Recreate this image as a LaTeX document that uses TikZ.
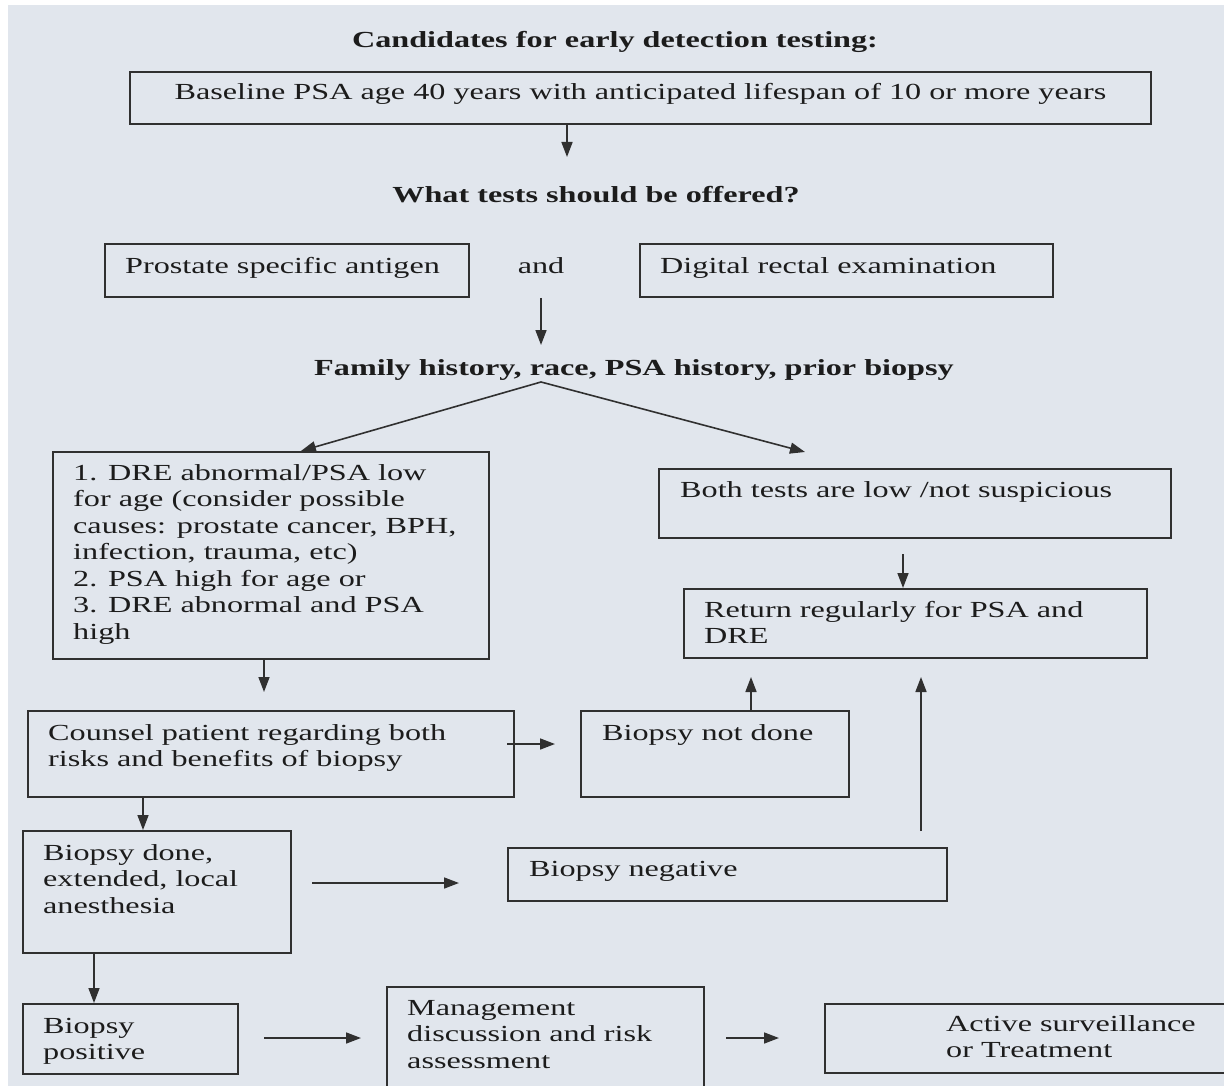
\documentclass[tikz,border=0pt]{standalone}
\usepackage{fontspec}
\setmainfont{Liberation Serif}[FakeStretch=1.4]
\usepackage{tikz}
\usetikzlibrary{arrows.meta}

\definecolor{paper}{HTML}{E1E6ED}
\definecolor{ink}{HTML}{1C1C1C}
\definecolor{rule}{HTML}{303030}

\tikzset{
  box/.style={draw=rule, line width=1.8pt, anchor=north west, inner sep=0pt},
  txt/.style={anchor=base west, inner sep=0pt, align=left, text=ink,
    font=\fontsize{23}{26.5}\selectfont},
  head/.style={anchor=base, inner sep=0pt, text=ink,
    font=\fontsize{23}{26.5}\selectfont\bfseries},
  arr/.style={draw=rule, line width=1.6pt, -{Triangle[length=15pt,width=11pt]}}
}

\begin{document}
\begin{tikzpicture}[x=1pt, y=-1pt]
  % Page
  \useasboundingbox (0,0) rectangle (1224,1086);
  \clip (0,0) rectangle (1224,1086);
  \fill[white] (0,0) rectangle (1224,1086);
  \fill[paper] (8,5) rectangle (1224,1086);

  % Headings
  \node[head] (cand) at (615,48) {Candidates for early detection testing:};
  \node[head] (offer) at (596,203) {What tests should be offered?};
  \node[head] (hist) at (634,375) {Family history, race, PSA history, prior biopsy};

  % Boxes
  \node[box, minimum width=1021pt, minimum height=52pt] (base) at (129,71) {};
  \node[box, minimum width=364pt, minimum height=53pt] (psa) at (104,243) {};
  \node[box, minimum width=413pt, minimum height=53pt] (dre) at (639,243) {};
  \node[box, minimum width=436pt, minimum height=207pt] (crit) at (52,451) {};
  \node[box, minimum width=512pt, minimum height=69pt] (low) at (658,468) {};
  \node[box, minimum width=463pt, minimum height=69pt] (ret) at (683,588) {};
  \node[box, minimum width=486pt, minimum height=86pt] (counsel) at (27,710) {};
  \node[box, minimum width=268pt, minimum height=86pt] (notdone) at (580,710) {};
  \node[box, minimum width=268pt, minimum height=122pt] (done) at (22,830) {};
  \node[box, minimum width=439pt, minimum height=53pt] (neg) at (507,847) {};
  \node[box, minimum width=215pt, minimum height=70pt] (pos) at (22,1003) {};
  \node[box, minimum width=317pt, minimum height=120pt] (mgmt) at (386,986) {};
  \node[box, minimum width=420pt, minimum height=69pt] (active) at (824,1003) {};

  % Texts (multi-line ones sit on the baseline of their last line)
  \node[txt, anchor=base] (baseT) at ([yshift=-29pt]base.north) {Baseline PSA age 40 years with anticipated lifespan of 10 or more years};
  \node[txt] (psaT) at ([xshift=21pt,yshift=-30pt]psa.north west) {Prostate specific antigen};
  \node[txt, anchor=base] (and) at (541,273) {and};
  \node[txt] (dreT) at ([xshift=21pt,yshift=-30pt]dre.north west) {Digital rectal examination};
  \node[txt] (critT) at ([xshift=21pt,yshift=-188pt]crit.north west) {1. DRE abnormal/PSA low\\for age (consider possible\\causes: prostate cancer, BPH,\\infection, trauma, etc)\\2. PSA high for age or\\3. DRE abnormal and PSA\\high};
  \node[txt] (lowT) at ([xshift=22pt,yshift=-29pt]low.north west) {Both tests are low /not suspicious};
  \node[txt] (retT) at ([xshift=21pt,yshift=-55.5pt]ret.north west) {Return regularly for PSA and\\DRE};
  \node[txt] (counselT) at ([xshift=21pt,yshift=-56.5pt]counsel.north west) {Counsel patient regarding both\\risks and benefits of biopsy};
  \node[txt] (notdoneT) at ([xshift=22pt,yshift=-30pt]notdone.north west) {Biopsy not done};
  \node[txt] (doneT) at ([xshift=21pt,yshift=-83pt]done.north west) {Biopsy done,\\extended, local\\anesthesia};
  \node[txt] (negT) at ([xshift=22pt,yshift=-29pt]neg.north west) {Biopsy negative};
  \node[txt] (posT) at ([xshift=21pt,yshift=-56.5pt]pos.north west) {Biopsy\\positive};
  \node[txt] (mgmtT) at ([xshift=21pt,yshift=-82pt]mgmt.north west) {Management\\discussion and risk\\assessment};
  \node[txt] (activeT) at ([xshift=122pt,yshift=-54.5pt]active.north west) {Active surveillance\\or Treatment};

  % Arrow ends
  \coordinate (a1) at (567,157);
  \coordinate (a2) at (541,345);
  \coordinate (fork) at (541,382);
  \coordinate (a3) at (805,452);
  \coordinate (a4) at (264,692);
  \coordinate (a5) at (903,554);
  \coordinate (a6s) at (507,744);
  \coordinate (a6) at (555,744);
  \coordinate (a7) at (751,677);
  \coordinate (a8s) at (921,831);
  \coordinate (a8) at (921,677);
  \coordinate (a9) at (143,830);
  \coordinate (a10s) at (312,883);
  \coordinate (a10) at (459,883);
  \coordinate (a11) at (94,1003);
  \coordinate (a12s) at (264,1038);
  \coordinate (a12) at (361,1038);
  \coordinate (a13s) at (726,1038);
  \coordinate (a13) at (779,1038);

  % Arrows
  \draw[arr] (base.south -| a1) -- (a1);
  \draw[arr] (and |- psa.south) -- (a2);
  \draw[arr] (fork) -- ([xshift=30pt]crit.north);
  \draw[arr] (fork) -- (a3);
  \draw[arr] (crit.south -| a4) -- (a4);
  \draw[arr] (a5) -- (ret.north -| a5);
  \draw[arr] (a6s) -- (a6);
  \draw[arr] (notdone.north -| a7) -- (a7);
  \draw[arr] (a8s) -- (a8);
  \draw[arr] (counsel.south -| a9) -- (done.north -| a9);
  \draw[arr] (a10s) -- (a10);
  \draw[arr] (done.south -| a11) -- (pos.north -| a11);
  \draw[arr] (a12s) -- (a12);
  \draw[arr] (a13s) -- (a13);
\end{tikzpicture}
\end{document}
